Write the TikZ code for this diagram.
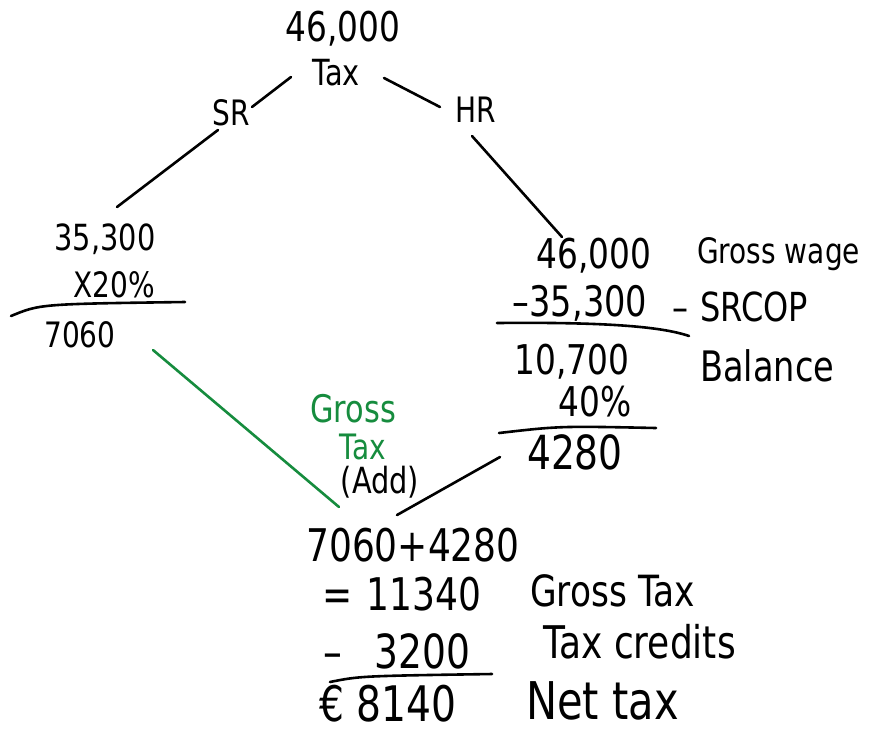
\documentclass[tikz,border=0pt]{standalone}
\usepackage{fontspec}
\setmainfont{DejaVu Sans}[FakeStretch=0.8]
\usepackage{tikz,xcolor}
\usetikzlibrary{positioning, calc}
\definecolor{inkgreen}{RGB}{22,140,62}

\begin{document}
\begin{tikzpicture}[x=1pt, y=-1pt,
        every node/.style={inner sep=0pt},
        sz/.style={font=\fontsize{#1}{#1}\selectfont},
        link/.style={line width=2.6pt, line cap=round},
        glink/.style={link, inkgreen}]
    \useasboundingbox (0,0) rectangle (877,732);

    \node[sz=41]                  (total)    at (343,29)  {46,000};
    \node[sz=36]                  (tax)      at (336,73)  {Tax};
    \node[sz=35]                  (sr)       at (231,113) {SR};
    \node[sz=35]                  (hr)       at (476,110) {HR};

    % standard rate side
    \node[sz=36]                  (sr base)  at (105,239) {35,300};
    \node[sz=35]                  (sr rate)  at (114,285) {X20\%};
    \node[sz=35]                  (sr tax)   at (80,335)  {7060};

    % higher rate side
    \node[sz=41]                  (hr gross) at (594,256) {46,000};
    \node[sz=35, anchor=west]     (wage)     at (697,254) {Gross wage};
    \node[sz=42]                  (hr cop)   at (580,303) {–35,300};
    \node[sz=40, anchor=west]     (cop)      at (672,307) {–\hspace{0.3em}SRCOP};
    \node[sz=41]                  (balance)  at (572,362) {10,700};
    \node[sz=42, anchor=west]     (bal text) at (700,366) {Balance};
    \node[sz=41]                  (hr rate)  at (595,402) {40\%};
    \node[sz=47]                  (hr tax)   at (575,452) {4280};

    \node[sz=38, text=inkgreen]   (gross 1)  at (353,409) {Gross};
    \node[sz=35, text=inkgreen]   (gross 2)  at (363,447) {Tax};
    \node[sz=36]                  (add)      at (380,482) {(Add)};

    % bottom sum
    \node[sz=45]                  (sum)      at (413,545) {7060+4280};
    \node[sz=45]                  (gross)    at (402,594) {=\hspace{0.3em}11340};
    \node[sz=43, anchor=west]     (g text)   at (530,591) {Gross Tax};
    \node[sz=47]                  (credits)  at (397,651) {–\hspace{0.7em}3200};
    \node[sz=45, anchor=west]     (c text)   at (543,642) {Tax credits};
    \node[sz=49]                  (net)      at (388,704) {€ 8140};
    \node[sz=52, anchor=west]     (n text)   at (526,701) {Net tax};

    \draw[link] ($(tax)+(-45,4)$) -- ($(sr)+(21,-6)$);
    \draw[link] ($(tax)+(48,5)$) -- ($(hr)+(-36,-3)$);
    \draw[link] ($(sr)+(-13,17)$) -- ($(sr base)+(12,-32)$);
    \draw[link] ($(hr)+(-4,26)$) -- ($(hr gross)+(-32,-19)$);
    \draw[glink] ($(sr tax)+(73,15)$) -- ($(sum)+(-74,-38)$);
    \draw[link] ($(hr tax)+(-75,5)$) -- ($(sum)+(-16,-30)$);

    % underlines
    \draw[link] (11,316) .. controls (40,304) .. (185,302);
    \draw[link] (497,323) .. controls (600,322) and (660,326) .. (689,336);
    \draw[link] (499,433) .. controls (560,426) .. (656,428);
    \draw[link] (330,682) .. controls (360,676) .. (492,674);
\end{tikzpicture}
\end{document}
